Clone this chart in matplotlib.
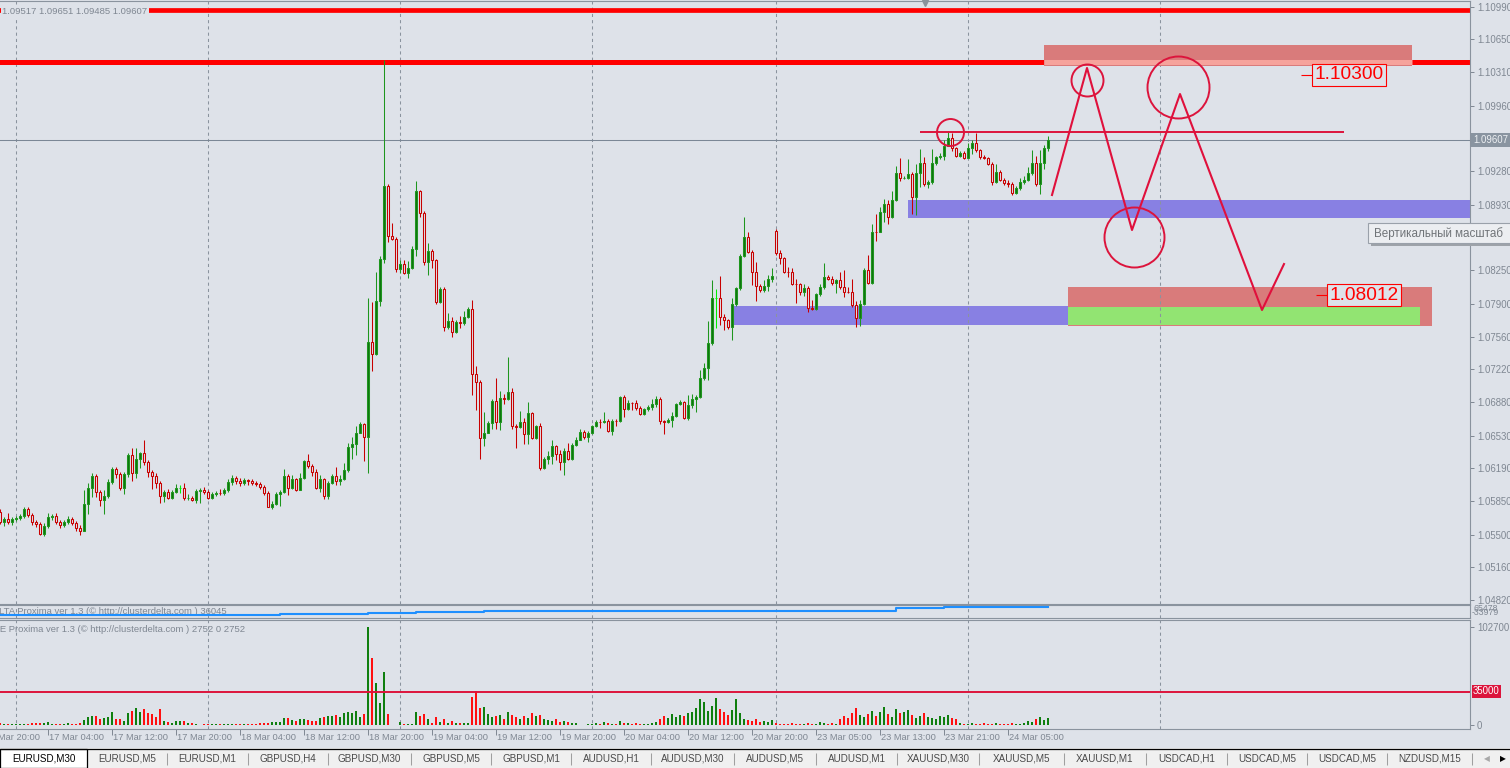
import numpy as np
import matplotlib
matplotlib.use('Agg')
import matplotlib.pyplot as plt
from matplotlib.patches import Rectangle
from matplotlib import transforms, font_manager

plt.rcParams['font.family'] = ['Liberation Sans', 'DejaVu Sans']

W, H = 1510, 768
BG = '#DEE2E9'
AXC = '#7F8792'
GRID = '#8A939E'
BULL = '#1E961E'
BULL_FILL = '#107410'
BEAR = '#C80000'
DOJI = '#00F000'
CRIMSON = '#DC143C'
PIP = 0.0001

names = {f.name for f in font_manager.fontManager.ttflist}
if 'Liberation Sans Narrow' in names:
    NARROW, TAB_FS, TARGET_FS = 'Liberation Sans Narrow', 8.6, 16
else:
    NARROW, TAB_FS, TARGET_FS = 'Liberation Sans', 7.1, 13.8

# ---- dati EURUSD M30 ----
first_bar = 4
first_open = 1.05738
monday_bar = 198
monday_open = 1.08658

closes = [
    1.05634, 1.05662, 1.05634, 1.05662, 1.05670, 1.05694, 1.05763, 1.05704, 1.05634, 1.05610,
    1.05503, 1.05590, 1.05680, 1.05694, 1.05634, 1.05600, 1.05634, 1.05659, 1.05618, 1.05566,
    1.05541, 1.05818, 1.05982, 1.06110, 1.05946, 1.05860, 1.05902, 1.06044, 1.06182, 1.06127,
    1.05982, 1.06130, 1.06328, 1.06144, 1.06286, 1.06349, 1.06258, 1.06154, 1.06113, 1.06034,
    1.05905, 1.05946, 1.05878, 1.05940, 1.05982, 1.05982, 1.05878, 1.05881, 1.05863, 1.05957,
    1.05964, 1.05946, 1.05878, 1.05919, 1.05936, 1.05930, 1.05964, 1.06044, 1.06086, 1.06061,
    1.06034, 1.06068, 1.06054, 1.06040, 1.06023, 1.05992, 1.05930, 1.05784, 1.05818, 1.05922,
    1.05940, 1.06110, 1.05982, 1.06075, 1.05964, 1.06086, 1.06266, 1.06214, 1.06148, 1.05982,
    1.06075, 1.05905, 1.06034, 1.06110, 1.06061, 1.06075, 1.06172, 1.06408, 1.06439, 1.06554,
    1.06650, 1.06518, 1.07500, 1.07375, 1.07930, 1.08366, 1.09126, 1.08606, 1.08574, 1.08262,
    1.08314, 1.08221, 1.08273, 1.08470, 1.09074, 1.08845, 1.08335, 1.08450, 1.08356, 1.07919,
    1.08054, 1.07659, 1.07722, 1.07607, 1.07711, 1.07701, 1.07763, 1.07846, 1.07170, 1.07087,
    1.06505, 1.06557, 1.06661, 1.06890, 1.06671, 1.06921, 1.06910, 1.06983, 1.06630, 1.06619,
    1.06671, 1.06546, 1.06765, 1.06505, 1.06630, 1.06193, 1.06286, 1.06318, 1.06422, 1.06338,
    1.06255, 1.06370, 1.06286, 1.06432, 1.06484, 1.06567, 1.06515, 1.06557, 1.06630, 1.06671,
    1.06668, 1.06682, 1.06578, 1.06682, 1.06678, 1.06931, 1.06806, 1.06869, 1.06865, 1.06817,
    1.06754, 1.06806, 1.06827, 1.06858, 1.06910, 1.06682, 1.06671, 1.06692, 1.06734, 1.06858,
    1.06879, 1.06713, 1.06848, 1.06910, 1.06931, 1.07129, 1.07233, 1.07493, 1.07961, 1.07961,
    1.07763, 1.07732, 1.07659, 1.07898, 1.08065, 1.08398, 1.08595, 1.08439, 1.08231, 1.08086,
    1.08044, 1.08086, 1.08158, 1.08190, 1.08429, 1.08377, 1.08231, 1.08228, 1.08106, 1.08103,
    1.08023, 1.08065, 1.07857, 1.07846, 1.08002, 1.08075, 1.08179, 1.08158, 1.08117, 1.08148,
    1.08075, 1.08023, 1.08020, 1.07888, 1.07753, 1.07898, 1.08252, 1.08117, 1.08647, 1.08644,
    1.08855, 1.08938, 1.08803, 1.08980, 1.09261, 1.09209, 1.09211, 1.09250, 1.09011, 1.09261,
    1.09365, 1.09146, 1.09167, 1.09365, 1.09427, 1.09441, 1.09542, 1.09625, 1.09521, 1.09438,
    1.09469, 1.09417, 1.09521, 1.09573, 1.09500, 1.09427, 1.09417, 1.09354, 1.09167, 1.09271,
    1.09188, 1.09157, 1.09150, 1.09053, 1.09105, 1.09167, 1.09188, 1.09261, 1.09365, 1.09146,
    1.09365, 1.09517, 1.09607,
]

# ombre in pip sopra / sotto il corpo
upper_pips = [
    3, 2, 6, 2, 2, 2, 2, 2, 2, 2,
    2, 3, 4, 2, 3, 2, 2, 3, 2, 2,
    3, 15, 5, 3, 2, 2, 6, 3, 2, 2,
    2, 2, 2, 7, 12, 1, 14, 2, 2, 3,
    2, 2, 3, 2, 4, 3, 5, 4, 2, 2,
    2, 3, 2, 2, 2, 4, 2, 3, 3, 2,
    3, 2, 1, 2, 2, 2, 2, 2, 3, 2,
    2, 7, 2, 5, 1, 5, 1, 7, 2, 3,
    5, 1, 2, 2, 9, 4, 7, 5, 8, 8,
    2, 1, 46, 42, 30, 3, 131, 2, 13, 2,
    4, 4, 7, 3, 10, 1, 2, 8, 2, 1,
    2, 2, 8, 4, 2, 6, 6, 2, 9, 8,
    2, 22, 2, 2, 24, 7, 4, 36, 4, 2,
    11, 4, 11, 1, 1, 3, 2, 5, 6, 1,
    4, 3, 8, 2, 3, 3, 2, 2, 1, 2,
    3, 9, 2, 2, 2, 1, 2, 3, 1, 4,
    2, 1, 2, 5, 3, 2, 1, 2, 4, 1,
    2, 1, 10, 5, 2, 8, 5, 23, 19, 9,
    23, 3, 1, 6, 1, 2, 21, 5, 2, 10,
    2, 6, 4, 8, 2, 3, 1, 5, 4, 5,
    1, 4, 2, 8, 1, 3, 15, 2, 3, 1,
    8, 18, 5, 14, 4, 4, 2, 16, 8, 19,
    5, 5, 4, 9, 7, 16, 2, 16, 2, 9,
    15, 6, 2, 15, 1, 3, 6, 7, 5, 1,
    2, 2, 5, 3, 10, 1, 2, 1, 2, 8,
    2, 2, 3, 2, 2, 4, 4, 6, 14, 7,
    13, 3, 4,
]
lower_pips = [
    2, 4, 2, 3, 2, 2, 2, 2, 3, 3,
    1, 2, 2, 3, 2, 3, 2, 2, 2, 3,
    4, 0, 10, 9, 5, 6, 15, 2, 2, 4,
    2, 6, 3, 9, 5, 9, 3, 5, 14, 5,
    8, 7, 1, 1, 1, 5, 2, 2, 1, 3,
    13, 2, 1, 1, 2, 2, 2, 2, 3, 3,
    3, 2, 4, 2, 2, 2, 2, 0, 2, 1,
    12, 1, 7, 1, 1, 0, 1, 2, 4, 1,
    4, 3, 3, 1, 5, 4, 1, 2, 12, 11,
    0, 25, 38, 17, 1, 5, 4, 6, 1, 3,
    4, 1, 5, 1, 7, 4, 3, 13, 8, 2,
    1, 4, 2, 5, 1, 5, 2, 1, 22, 29,
    22, 8, 0, 6, 7, 8, 5, 1, 3, 22,
    1, 10, 10, 1, 1, 2, 1, 5, 8, 6,
    8, 13, 1, 1, 1, 0, 2, 5, 1, 1,
    6, 1, 1, 4, 5, 1, 8, 1, 7, 2,
    1, 1, 2, 3, 3, 3, 12, 1, 7, 1,
    1, 1, 2, 3, 13, 1, 2, 12, 2, 31,
    8, 10, 2, 13, 2, 2, 1, 1, 13, 16,
    2, 2, 5, 3, 2, 6, 1, 5, 1, 19,
    3, 4, 4, 1, 1, 2, 2, 1, 2, 10,
    2, 5, 1, 2, 9, 8, 1, 1, 1, 9,
    0, 10, 7, 1, 1, 3, 1, 1, 18, 19,
    15, 2, 4, 2, 2, 2, 5, 0, 3, 1,
    1, 1, 0, 6, 2, 2, 1, 1, 3, 1,
    1, 2, 3, 2, 1, 2, 2, 1, 2, 2,
    10, 6, 3,
]

# volumi in migliaia
volumes_k = [
    2, 1, 1, 1, 1, 1, 1, 1, 2, 2, 2, 2,
    3, 1, 1, 1, 1, 2, 1, 1, 2,
    5.2, 8.7, 9.4, 9.8, 6.3, 7, 8, 13, 6.6, 6, 4.5,
    12.2, 15, 18, 13.6, 17, 12.2, 11.5, 8.7, 17,
    4.2, 2.8, 1.7, 4.2, 4.5, 4.2, 2.4, 1.7, 1.4,
    0, 1, 1, 1, 1, 1, 1, 1, 1, 1, 1, 1, 1, 1, 1,
    1.5, 1.5, 1.5, 2.5, 2.5, 3,
    7, 7.6, 5.2, 4.5, 6.3, 6.6, 5.2, 4.5, 4.5, 7, 8.7, 9.4, 9.8, 10.8, 8, 12.2, 14, 12.2, 15, 8, 11.5,
    102.7, 70, 43.7, 23.4, 56, 11.2,
    0, 0,
    3.5, 1, 1, 1, 13, 9.8, 11.5, 6, 2.4, 8, 3.5, 6, 1.7, 4.2, 2.4, 2.4, 1.7, 2.4,
    29, 36, 18, 19, 11, 8, 9,
    10, 6, 14, 10, 8, 6, 9, 7, 12, 9, 10, 6, 5, 4, 6, 3, 4, 3, 2, 2,
    0, 0,
    1, 1, 2, 1, 3, 2, 1, 1, 4, 2, 2, 1, 2, 1, 1, 1, 2, 3,
    6, 9, 7, 11, 8, 10, 9, 12,
    14, 18, 27, 24, 15, 20, 28, 17, 13, 10, 16, 27, 12,
    6, 5, 4, 6, 3, 4, 3, 5,
    2, 1, 1, 1, 2, 1, 1, 1, 2, 1, 1, 3, 2, 1, 2, 1,
    6, 9, 7, 12, 18, 10, 8, 11, 15, 9, 13, 19, 11, 8, 17, 12, 14, 16, 10, 7, 9, 12, 8, 7, 6,
    9, 8, 10, 7, 6,
    2, 1, 1, 2, 1, 1, 2, 1, 1, 2, 1, 1, 1, 2, 1, 1, 2,
    4, 3, 6, 8, 5, 7,
]

delta_bars = [4, 74, 90, 96, 108, 125, 150, 200, 228, 240, 266]
delta_vals = [-13000, -9000, -5000, 2000, 13000, 20000, 22000, 26000, 45000, 57000, 60000]

tick_prices = [1.10990, 1.10650, 1.10310, 1.09960, 1.09280, 1.08930, 1.08590, 1.08250, 1.07900,
               1.07560, 1.07220, 1.06880, 1.06530, 1.06190, 1.05850, 1.05500, 1.05160, 1.04820]
last_price = 1.09607
ohlc_header = '1.09517 1.09651 1.09485 1.09607'
vol_level = 35000
vol_max = 102700

time_label_bars = list(range(0, 257, 16))
time_labels = ['16 Mar 20:00', '17 Mar 04:00', '17 Mar 12:00', '17 Mar 20:00', '18 Mar 04:00',
               '18 Mar 12:00', '18 Mar 20:00', '19 Mar 04:00', '19 Mar 12:00', '19 Mar 20:00',
               '20 Mar 04:00', '20 Mar 12:00', '20 Mar 20:00', '23 Mar 05:00', '23 Mar 13:00',
               '23 Mar 21:00', '24 Mar 05:00']
day_bars = [8, 56, 104, 152, 198, 246, 294]

tabs = ['EURUSD,M30', 'EURUSD,M5', 'EURUSD,M1', 'GBPUSD,H4', 'GBPUSD,M30', 'GBPUSD,M5',
        'GBPUSD,M1', 'AUDUSD,H1', 'AUDUSD,M30', 'AUDUSD,M5', 'AUDUSD,M1', 'XAUUSD,M30',
        'XAUUSD,M5', 'XAUUSD,M1', 'USDCAD,H1', 'USDCAD,M5', 'USDCAD,M5', 'NZDUSD,M15']
tab_edges = [0, 87, 167, 248, 328, 411, 491, 571, 651, 734, 816, 897, 979, 1064, 1146, 1227, 1307, 1387, 1472]

# livelli e oggetti disegnati a mano
resistance_top = 1.10961
resistance = 1.10410
neck_level = 1.09687
neck_bars = (234, 340)
sell_zone = (265, 357, 1.10374, 1.10592)
buy_zone_1 = (231, 372, 1.08793, 1.08980)
buy_zone_2 = (187.25, 271, 1.07680, 1.07878)
tp_zone = (271, 362, 1.07670, 1.08075)
tp_zone_inner = (271, 359, 1.07680, 1.07867)
path_bars = [267, 275.75, 287, 299, 319.5, 325]
path_prices = [1.09032, 1.10353, 1.08668, 1.10082, 1.07836, 1.08314]
circle_bars = [241.5, 275.75, 298.5, 287.5]
circle_prices = [1.09687, 1.10228, 1.10155, 1.08595]
circle_px = [27, 32, 62, 60]
target_labels = ['1.10300', '1.08012']
target_bars = [332, 335.75]
target_prices = [1.10282, 1.07992]

# ---- figura ----
fig = plt.figure(figsize=(W / 100, H / 100), dpi=100, facecolor=BG)


def px_axes(x0, y0, x1, y1, **kw):
    return fig.add_axes([x0 / W, 1 - y1 / H, (x1 - x0) / W, (y1 - y0) / H], **kw)


ax = px_axes(0, 1, 1470, 604)
ax_d = px_axes(0, 605, 1470, 618)
ax_v = px_axes(0, 620, 1470, 729)
xlim = (4, 371.5)
for a in (ax, ax_d, ax_v):
    a.set_facecolor(BG)
    a.set_xlim(*xlim)
    for s in ('top', 'bottom', 'right'):
        a.spines[s].set_color(GRID)
        a.spines[s].set_linewidth(0.8)
    a.spines['left'].set_visible(False)
    for b in day_bars:
        a.axvline(b, color=GRID, lw=0.75, ls=(0, (3, 3)), zorder=1.2)
    a.tick_params(axis='x', bottom=False, labelbottom=False)
    a.yaxis.tick_right()
    a.tick_params(axis='y', direction='out', length=3, width=0.7, colors=AXC, labelsize=6.9, pad=2)

ax.set_ylim(1.047784, 1.110496)
ax.set_yticks(tick_prices)
ax.set_yticklabels(['%.5f' % p for p in tick_prices])

# candele
bars = np.arange(first_bar, first_bar + len(closes))
c = np.array(closes)
o = np.r_[first_open, c[:-1]]
o[bars == monday_bar] = monday_open
hi = np.maximum(o, c) + np.array(upper_pips) * PIP
lo = np.minimum(o, c) - np.array(lower_pips) * PIP
up = c > o
dn = c < o
dj = c == o

ax.vlines(bars[up], lo[up], hi[up], color=BULL, lw=0.75, zorder=3)
ax.vlines(bars[dn], lo[dn], hi[dn], color=BEAR, lw=0.75, zorder=3)
ax.vlines(bars[dj], lo[dj], hi[dj], color=DOJI, lw=0.75, zorder=3)
ax.bar(bars[up], (c - o)[up], bottom=o[up], width=0.58, facecolor=BULL_FILL, edgecolor=BULL, lw=0.75, zorder=4)
ax.bar(bars[dn], (o - c)[dn], bottom=c[dn], width=0.58, facecolor=BG, edgecolor=BEAR, lw=0.75, zorder=4)
ax.hlines(c[dj], bars[dj] - 0.35, bars[dj] + 0.35, color=DOJI, lw=0.75, zorder=4)

# livelli
ax.axhline(last_price, color='#7B8796', lw=0.75, zorder=2)
ax.axhline(resistance_top, color='#FF0000', lw=3.4, zorder=2)
ax.axhline(resistance, color='#FF0000', lw=3.6, zorder=2)


def zone(z, color, zo):
    k0, k1, p0, p1 = z
    ax.add_patch(Rectangle((k0, p0), k1 - k0, p1 - p0, facecolor=color, edgecolor='none', zorder=zo))


zone(buy_zone_1, '#8880E3', 1)
zone(buy_zone_2, '#8880E3', 1)
zone(tp_zone, '#D97B7B', 1)
zone(tp_zone_inner, '#92E472', 1.1)
zone(sell_zone, '#D97B7B', 2.5)
ax.hlines(resistance, sell_zone[0], sell_zone[1], color='#F6A39C', lw=3.6, zorder=2.6)

ax.hlines(neck_level, *neck_bars, color=CRIMSON, lw=1.4, zorder=6)
ax.plot(path_bars, path_prices, color='#E0103C', lw=1.5, zorder=6)
for b, p, d in zip(circle_bars, circle_prices, circle_px):
    ax.plot([b], [p], ls='none', marker='o', ms=d / 1.389, mfc='none', mec=CRIMSON, mew=1.4, zorder=6)

for t, b, p in zip(target_labels, target_bars, target_prices):
    ax.hlines(p, b - 2.75, b, color='#FF0000', lw=0.8, zorder=6)
    ax.text(b + 0.6, p, t, ha='left', va='center', color='#FF0000', fontsize=TARGET_FS, family=NARROW,
            zorder=7, bbox=dict(boxstyle='square,pad=0.12', facecolor=BG, edgecolor='#FF0000', lw=0.8))

ytr = transforms.blended_transform_factory(ax.transAxes, ax.transData)
ax.text(1 + 3 / 1470, last_price, '%.5f' % last_price, transform=ytr, ha='left', va='center',
        color='#EEF1F4', fontsize=6.9, clip_on=False, zorder=8,
        bbox=dict(boxstyle='square,pad=0.2', facecolor='#8994A0', edgecolor='none'))

fig.text(2 / W, 1 - 11.5 / H, ohlc_header, color=AXC, fontsize=6.8, ha='left', va='center',
         bbox=dict(boxstyle='square,pad=0.15', facecolor=BG, edgecolor='none'))

# pannello delta
ax_d.set_ylim(-40000, 75000)
ax_d.set_yticks([])
ax_d.plot(delta_bars, delta_vals, drawstyle='steps-post', color='#1E8FFF', lw=1.5, zorder=3)
ax_d.text(-14 / W, 1 - 612 / H, 'DELTA Proxima ver 1.3 (\u00a9 http://clusterdelta.com ) 36045',
          transform=fig.transFigure, color=AXC, fontsize=6.8, va='center', ha='left', clip_on=False, zorder=1)
fig.text(1474 / W, 1 - 608.5 / H, '65478', color=AXC, fontsize=6.3, va='center')
fig.text(1472 / W, 1 - 612.5 / H, '-33979', color=AXC, fontsize=6.3, va='center')

# pannello volumi
vol = np.array(volumes_k) * 1000
ax_v.set_ylim(-4375, 110075)
ax_v.bar(bars[c >= o], vol[c >= o], width=0.72, color='#0F7F0F', lw=0, zorder=3)
ax_v.bar(bars[c < o], vol[c < o], width=0.72, color='#FF1010', lw=0, zorder=3)
ax_v.axhline(vol_level, color=CRIMSON, lw=1.4, zorder=4)
ax_v.set_yticks([0, vol_max])
ax_v.set_yticklabels(['0', str(vol_max)])
vtr = transforms.blended_transform_factory(ax_v.transAxes, ax_v.transData)
ax_v.text(1 + 3 / 1470, vol_level, str(vol_level), transform=vtr, ha='left', va='center', color='white',
          fontsize=6.9, clip_on=False, zorder=8,
          bbox=dict(boxstyle='square,pad=0.15', facecolor=CRIMSON, edgecolor='none'))
ax_v.text(-7 / W, 1 - 629 / H, 'DE Proxima ver 1.3 (\u00a9 http://clusterdelta.com ) 2752 0 2752',
          transform=fig.transFigure, color=AXC, fontsize=6.8, va='center', ha='left', clip_on=False, zorder=1)

# asse dei tempi
ax_v.set_xticks([b for b in time_label_bars if b >= xlim[0]])
ax_v.tick_params(axis='x', bottom=True, direction='out', length=4, width=0.7, color=AXC, labelbottom=False)
ttr = transforms.blended_transform_factory(ax_v.transData, fig.transFigure)
for b, t in zip(time_label_bars, time_labels):
    ax_v.text(b + 0.3, 1 - 738 / H, t, transform=ttr, ha='left', va='center', color=AXC, fontsize=6.7,
              clip_on=False)

# barra delle schede
ax_t = fig.add_axes([0, 0, 1, 20 / H])
ax_t.set_xlim(0, W)
ax_t.set_ylim(768, 748)
ax_t.axis('off')
ax_t.add_patch(Rectangle((0, 748), W, 20, facecolor='#F0F0F0', edgecolor='none'))
ax_t.axhline(749.5, color='#000000', lw=0.9)
ax_t.add_patch(Rectangle((0, 749.5), tab_edges[1] - 0.5, 19, facecolor='white', edgecolor='#000000', lw=0.9))
for i, t in enumerate(tabs):
    x0, x1 = tab_edges[i], tab_edges[i + 1]
    if i > 0:
        ax_t.vlines(x1, 753, 765, color='#A0A0A0', lw=0.75)
    ax_t.text((x0 + x1) / 2, 758.5, t, ha='center', va='center', fontsize=TAB_FS, family=NARROW,
              color='#000000' if i == 0 else '#4A4A4A')
ax_t.text(1487, 758.5, '\u25c0', ha='center', va='center', fontsize=5.5, color='#A8A8A8', family='DejaVu Sans')
ax_t.text(1503, 758.5, '\u25b6', ha='center', va='center', fontsize=5.5, color='#000000', family='DejaVu Sans')

# sovrapposizione: suggerimento e marcatore spostamento
ax_o = fig.add_axes([0, 0, 1, 1], zorder=10)
ax_o.set_xlim(0, W)
ax_o.set_ylim(H, 0)
ax_o.axis('off')
ax_o.add_patch(Rectangle((1371, 226), 145, 20, facecolor='#9EA3A9', edgecolor='none'))
ax_o.add_patch(Rectangle((1368, 223), 145, 20, facecolor='#ECEEF1', edgecolor='#9AA1AA', lw=0.8))
ax_o.text(1374, 233.5, 'Вертикальный масштаб', ha='left', va='center', fontsize=8.4, color='#707478')
ax_o.plot([925], [3], marker='v', ms=4, color='#8A929C', ls='none')

fig.savefig('out.png', dpi=100, facecolor=BG)
